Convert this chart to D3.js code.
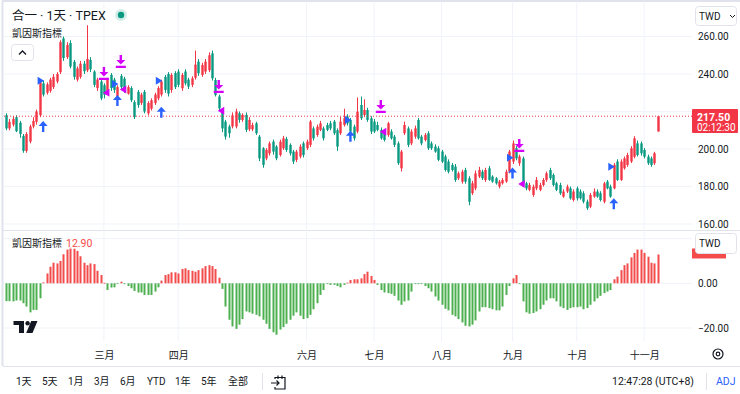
<!DOCTYPE html>
<html>
<head>
<meta charset="utf-8">
<script src="https://d3js.org/d3.v7.min.js"></script>
<style>
  html, body { margin: 0; padding: 0; background: #fff; }
  svg { display: block; font-family: Roboto, "Noto Sans CJK TC", sans-serif; }
</style>
</head>
<body>
<div id="chart"></div>
<script>
// daily candles, [open, high, low, close]
const ohlc = [
  [218,219,210,211],[211,216,210,214.5],[213,217.5,212,216],[217,218,209,209.5],[214,215,206,208],
  [207,208,198,199],[199,209,198,208],[204,213,203,212],[212,217,211,215],[214.5,221,213,220],
  [218,236.5,217,235.5],[235,236.5,228,229],[230,235.5,229,234.5],[231,238,230,237],[233,240,232,238.5],
  [236,241,235,240],[241,258,240,257],[259,260,247,248.5],[249,257,248,255.5],[256.5,258,243,244],
  [246.5,247.5,237,238.5],[237,244,236,243],[238.5,247,237.5,245.5],[245.5,247,240,241.5],[242,266,241,248],
  [247.5,249,241,242.5],[241.3,242,233,234.2],[232.5,238,231,237],[236,237,226,227],[234,235,227,229],
  [230.5,238,229,237],[239.5,240.5,231,232.5],[237,238,230,231.5],[228,234,227,233],[239,240,232,233],
  [237.5,238.5,230,231.5],[229.5,234,229,233],[232.5,233.5,225,226],[225,226,216,217],[230.5,231.5,222,223.5],
  [224.5,230,223.5,229],[230.5,231.5,219,220],[219,225.5,218,224.5],[221.5,227,220.5,226],[224.5,230,223.5,229],
  [227,233.5,226,232.5],[229,237,228,236],[238.5,239.5,230,231.5],
  [240,241,228,229.5],[231.5,240.5,230,239.5],[240.5,241.5,232,233],[241.3,242.5,233,234.2],[232.4,240.5,231,239.5],
  [241.3,242.5,234,235],[237,238,232,233.3],[234.2,238.8,233,237.7],[238,252.5,237,245],[246.6,248,239,240.4],
  [239.5,246,238.5,244.8],[241.3,248,240,246.6],[242,251.5,241,250],[251,252.5,236.5,237.7],[236.8,238,228,228.8],
  [228,229,220.5,221.7],[220,221,209,211],[214.6,215.5,205,206.6],[212,213,206,208.4],[212,219.5,211,218],
  [212,221.5,211,220],[219,220,214,215.5],[215.5,219,214.5,218.2],[218.2,219.5,209,210.2],[210.5,217,209.5,215.5],
  [210.5,214,209.5,212.8],[213.7,214.5,207.5,208.4],[206.6,207.5,193.5,195],[200.4,201,190,191.5],[195,200.5,194,199.5],
  [197.7,204,196.5,203],[203.9,205,197,198.6],[201.3,202,194,195],[196.8,205,196,203.9],[200.4,207,199.5,205.7],
  [205.4,206.5,198.5,199.5],[202.2,203,196.5,197.7],[198.6,199.5,192,193.3],[194.2,199.5,193,198.6],[196,202.5,195,201.3],
  [203,204,195.5,196.8],[200.4,205,199.5,203.9],[202.2,215.5,201,214.6],[211,212,204.5,205.7],[207.5,213,206.5,211.9],
  [210.2,215,209.5,213.7],[211,212,204.5,205.7],[212.8,214,209.5,210.2],[213.7,215,210,211],
  [214.6,215.5,207.5,208.4],[210,211,199,201.3],[208.4,217,207.5,214.6],[212.8,221.5,212,216.4],[217.3,218.5,212.5,213.7],
  [215.5,216.5,208,209.3],[211.9,213,204.5,205.7],[209.3,227.5,208.4,219.9],[223.5,228,215.5,216.4],[218.2,226.5,217,220.8],
  [220.8,222,214.5,215.5],[216.4,217.5,208,209.3],[214.6,216,208.5,209.3],[212.8,214.5,209.5,210.2],[210.2,211.5,205,205.7],
  [208.4,209.5,204,204.8],[207.5,214.5,206.5,213.7],[209.3,210.5,205,205.7],[206.6,207.5,201,202.2],[203,204,191.5,192.4],
  [189.7,199.5,188,198.6],[208.4,214.6,207.5,212.8],[211,212,201,202.2],[203,210.5,202,209.3],[206.6,212.5,205.5,211],
  [215.5,216.5,205,205.7],[206.6,207.5,202,203],[204.8,208.5,204,207.5],[208.4,209.5,199.5,200.4],[203,204,199.5,200.4],
  [201.3,202.5,198,198.6],[200.4,201.5,193.5,194.2],[198.6,199.5,192.5,193.3],[196,197,188,188.8],[193.3,194.5,187,187.9],
  [191.5,192.5,188,188.8],[190.6,192,182.5,183.5],[184.4,188,183.5,187],[182.6,189,181.5,187.9],[188.8,190,181.5,182.6],
  [184.4,185.5,170,171.9],[176.4,183,175.5,181.7],[179,188.5,178,187],[185.3,190.5,184.5,188.8],[187.9,189,183.5,184.4],
  [183.5,190,182.5,188.8],[189.7,191,183,183.5],[185.3,186,182,182.6],[184.4,185,181,181.7],[180,183.5,179,182.6],
  [181.7,184.5,181,183.5],[182.6,189,182,187.9],[187.9,199.5,187,198.6],[193.3,204.5,192,203],[200.4,201.5,194,195],
  [192.4,197,191,196],[195,196,180.5,181.7],[181.7,182.5,178,179],[178.2,182,177.5,180.8],[175.5,181,174.5,179.9],
  [179,185,178,183.5],[178.2,182,177.5,180.8],[180.8,184.5,180,183.5],[183.5,188,182.5,187],[188.8,190,183.5,184.4],
  [186.2,187,180,180.8],[181.7,182.5,177.5,178.2],[180.8,182,175.5,176.4],[174.6,178.5,174,177.3],[177.3,181,176.5,179.9],
  [179,180,173,173.7],[172.8,178.5,172,177.3],[179,180,172.5,173.7],[177.3,178.5,173,173.7],[176.4,177.5,171,171.9],
  [171.9,173,167.5,168.4],[169.3,176.5,168.5,175.5],[174.6,179,174,177.3],[177.3,178.5,174,174.6],[176.4,177.5,172,172.8],
  [171.9,182.5,171,181.7],[182.6,183.5,178.5,179],[180,181,174,174.6],[179,192.5,178.5,191.5],[193.3,194.5,183,183.5],
  [183.5,194.5,183,193.3],[189.7,196,189,195],[191.5,198,190.5,196.8],[193.3,201.5,192.5,200.4],[195.9,206.8,195,205.7],
  [203,204.5,196,196.8],[203,204,196.5,197.7],[199.5,200.5,195,195.9],[195.9,197,191.5,192.4],[195,196,190.5,191.5],
  [192.4,198.5,191.5,197.7],[209.3,217.5,209.3,217.5]
];

// 凱因斯指標 histogram, one value per candle
const keynes = [
  -8,-8,-8.1,-7.7,-7.7,-8.9,-10.4,-13,-11.9,-11.9,-6.7,
  0.4,4.4,7.4,9.2,8.9,10,13,15.1,16,15.6,14.5,12.1,9.2,8.1,8.9,8.6,5.6,3.7,0.2,
  -3,-1.9,-1.8,-0.3,0.7,-0.4,-1.2,-2.2,-3.4,-4.1,-4.1,-5.2,-5.2,-5.2,-3.7,-1.8,
  1.2,3.7,4.1,4.9,4.9,4.4,6.4,6.7,5.9,5.6,5.2,5.9,6.7,7.7,8.1,7.7,6.4,2.5,
  -2.5,-10.4,-16.3,-19.3,-20.4,-18.5,-16,-12.6,-13,-13.6,-14.1,-14.8,-16.3,-18.1,-20.4,-21.9,-23,-20.7,-19.6,-18.1,
  -16.3,-14.5,-13,-14.5,-16,-15.6,-14.1,-11.6,-8.9,-5.2,-3,-0.3,-0.7,-0.7,-1.2,-1.8,-0.7,0.3,1.5,1.8,1.8,2.2,4.1,5.2,
  3.3,1.5,-0.7,-3,-4.1,-4.4,-4.7,-5.6,-7.7,-9.6,-8.1,-7.7,-3.7,-0.3,-0.4,-0.3,-1.2,-2.2,-3.7,-5.9,
  -7.7,-9.6,-11.4,-12.1,-14.1,-14.8,-16,-17.5,-19,-19.3,-18.5,-16.6,-12.6,-10.7,-10.7,-11.1,-11.6,-12.1,-12.1,-10.4,
  -5.2,-1.2,2.2,3.7,-0.3,-8.1,-13,-13.6,-13.3,-12.6,-11.6,-9.6,-7.7,-6.7,-6.7,-8.1,-10.4,-11.1,-11.9,-11.1,
  -10.7,-10.7,-10.4,-11.6,-11.1,-9.6,-8.1,-6.7,-5.6,-4.4,-3.7,-3,1.8,3,5.9,8.1,8.9,11.6,13.6,15.1,
  15.1,13.6,11.9,9.2,8.9,12.9
];

const monthStarts = [29, 51, 89, 109, 129, 150, 169, 189];
const monthNames = ['三月', '四月', '六月', '七月', '八月', '九月', '十月', '十一月'];
const priceGrid = [160, 180, 200, 220, 240, 260];
const priceLabels = [160, 180, 200, 240, 260];   // 220.00 sits under the last-price tag
const keynesTicks = [-20, 0];
const keynesGrid = [-20, 0, 20];
const lastPrice = 217.5;
const lastKeynes = 12.9;

// signal markers: [candle index, price]
const buyTri = [[11, 236.4], [33, 234.7], [46, 236.4], [102, 215.5], [150, 195.4], [180, 190.6]];
const buyArrow = [[11, 214.9], [33, 228.8], [46, 222.6], [102, 209.8], [150, 190.2], [180, 173.7]];
const sellArrow = [[29, 236.8], [34, 243.2], [63, 229.9], [111, 219.2], [152, 198.4]];
const sellTri = [[29, 230], [34, 231.8], [63, 220.4], [111, 209.2], [152, 181.3]];

const rangeBtns = ['1天', '5天', '1月', '3月', '6月', 'YTD', '1年', '5年', '全部'];

(function () {
  'use strict';
  const W = 740, H = 394;
  const RED = '#f23645', GREEN = '#089981', HRED = '#f44b4b', HGREEN = '#4caf50';
  const BLUE = '#2962ff', MAG = '#d500f9', GRID = '#f0f3fa', LINE = '#e0e3eb', TEXT = '#131722';
  const PLOT_R = 692;

  const svg = d3.select('#chart').append('svg').attr('width', W).attr('height', H);
  svg.append('rect').attr('width', W).attr('height', H).attr('fill', '#fff');

  const x = d3.scaleLinear().domain([0, ohlc.length - 1]).range([6, 657.7]);
  const yP = d3.scaleLinear().domain([160, 260]).range([224, 36.5]);
  const yK = d3.scaleLinear().domain([-20, 0]).range([328, 283.3]);

  // frame + pane separators
  svg.append('line').attr('x1', 2.5).attr('x2', 2.5).attr('y1', 1).attr('y2', 366).attr('stroke', LINE).attr('stroke-width', 2);
  svg.append('line').attr('x1', 2).attr('x2', W).attr('y1', 1).attr('y2', 1).attr('stroke', LINE).attr('stroke-width', 2);
  svg.append('line').attr('x1', 3).attr('x2', W).attr('y1', 230.5).attr('y2', 230.5).attr('stroke', LINE);
  svg.append('line').attr('x1', 3).attr('x2', W).attr('y1', 366.5).attr('y2', 366.5).attr('stroke', LINE);

  // grid
  const grid = svg.append('g');
  grid.selectAll('line.vg').data(monthStarts).join('line').attr('class', 'vg')
    .attr('x1', d => x(d)).attr('x2', d => x(d)).attr('y1', 3).attr('y2', 341).attr('stroke', GRID);
  grid.selectAll('line.hp').data(priceGrid).join('line').attr('class', 'hp')
    .attr('x1', 4).attr('x2', PLOT_R).attr('y1', d => yP(d)).attr('y2', d => yP(d)).attr('stroke', GRID);
  grid.selectAll('line.hk').data(keynesGrid).join('line').attr('class', 'hk')
    .attr('x1', 4).attr('x2', PLOT_R).attr('y1', d => yK(d)).attr('y2', d => yK(d)).attr('stroke', GRID);

  // candles
  svg.append('clipPath').attr('id', 'pclip').append('rect').attr('x', 3).attr('y', 3).attr('width', PLOT_R - 3).attr('height', 226);
  const cg = svg.append('g').attr('clip-path', 'url(#pclip)');
  const bw = 2.4;
  const candle = cg.selectAll('g.c').data(ohlc).join('g').attr('class', 'c');
  candle.append('line')
    .attr('x1', (d, i) => Math.round(x(i)) + 0.5).attr('x2', (d, i) => Math.round(x(i)) + 0.5)
    .attr('y1', d => yP(d[1])).attr('y2', d => yP(d[2]))
    .attr('stroke', d => d[3] >= d[0] ? RED : GREEN).attr('stroke-width', 1);
  candle.append('rect')
    .attr('x', (d, i) => Math.round(x(i)) + 0.5 - bw / 2).attr('width', bw)
    .attr('y', d => yP(Math.max(d[0], d[3])))
    .attr('height', d => Math.max(1, Math.abs(yP(d[0]) - yP(d[3]))))
    .attr('fill', d => d[3] >= d[0] ? RED : GREEN);

  // last price line
  svg.append('line').attr('x1', 4).attr('x2', PLOT_R).attr('y1', yP(lastPrice)).attr('y2', yP(lastPrice))
    .attr('stroke', RED).attr('stroke-dasharray', '1 2').attr('stroke-width', 1);

  // markers
  const mk = svg.append('g');
  mk.selectAll('path.bt').data(buyTri).join('path').attr('class', 'bt')
    .attr('d', d => { const cx = x(d[0]) - 2.5, cy = yP(d[1]); return `M${cx - 3},${cy - 4}L${cx + 3.5},${cy}L${cx - 3},${cy + 4}Z`; })
    .attr('fill', BLUE);
  mk.selectAll('path.ba').data(buyArrow).join('path').attr('class', 'ba')
    .attr('d', d => { const cx = x(d[0]), ty = yP(d[1]);
      return `M${cx},${ty}L${cx + 4.5},${ty + 5}L${cx + 1.2},${ty + 5}L${cx + 1.2},${ty + 11}L${cx - 1.2},${ty + 11}L${cx - 1.2},${ty + 5}L${cx - 4.5},${ty + 5}Z`; })
    .attr('fill', BLUE);
  mk.selectAll('path.sa').data(sellArrow).join('path').attr('class', 'sa')
    .attr('d', d => { const cx = x(d[0]), by = yP(d[1]);
      return `M${cx - 1.2},${by - 13}L${cx + 1.2},${by - 13}L${cx + 1.2},${by - 8}L${cx + 4.5},${by - 8}L${cx},${by - 3.5}L${cx - 4.5},${by - 8}L${cx - 1.2},${by - 8}Z` +
        `M${cx - 5},${by - 2.2}L${cx + 5},${by - 2.2}L${cx + 5},${by}L${cx - 5},${by}Z`; })
    .attr('fill', MAG);
  mk.selectAll('path.st').data(sellTri).join('path').attr('class', 'st')
    .attr('d', d => { const cx = x(d[0]) + 2.5, cy = yP(d[1]); return `M${cx + 3},${cy - 4}L${cx - 3.5},${cy}L${cx + 3},${cy + 4}Z`; })
    .attr('fill', MAG);

  // keynes histogram
  svg.append('g').selectAll('rect').data(keynes).join('rect')
    .attr('x', (d, i) => Math.round(x(i)) - 0.5).attr('width', 2)
    .attr('y', d => d >= 0 ? yK(d) : yK(0)).attr('height', d => Math.max(0.8, Math.abs(yK(d) - yK(0))))
    .attr('fill', d => d >= 0 ? HRED : HGREEN);

  // axes
  const styleAxis = g => {
    g.select('.domain').remove();
    g.attr('font-family', 'Roboto, "Noto Sans CJK TC", sans-serif').attr('font-size', 10);
    g.selectAll('text').attr('fill', TEXT);
  };
  svg.append('g').attr('transform', `translate(${PLOT_R + 6},0)`)
    .call(d3.axisRight(yP).tickValues(priceLabels).tickFormat(d3.format('.2f')).tickSize(0).tickPadding(0))
    .call(styleAxis);
  svg.append('g').attr('transform', `translate(${PLOT_R + 6},0)`)
    .call(d3.axisRight(yK).tickValues(keynesTicks).tickFormat(d3.format('.2f')).tickSize(0).tickPadding(0))
    .call(styleAxis);
  svg.append('g').attr('transform', 'translate(0,352)')
    .call(d3.axisBottom(x).tickValues(monthStarts).tickFormat((d, i) => monthNames[i]).tickSize(0).tickPadding(0))
    .call(styleAxis);

  // last price label
  svg.append('rect').attr('x', 692).attr('y', 109).attr('width', 46).attr('height', 24).attr('rx', 1).attr('fill', RED);
  svg.append('text').attr('x', 697).attr('y', 120.5).attr('fill', '#fff').attr('font-size', 10.5).attr('font-weight', 'bold').text(d3.format('.2f')(lastPrice));
  svg.append('text').attr('x', 697).attr('y', 131).attr('fill', '#fff').attr('font-size', 10).text('02:12:30');

  // indicator last value tag (mostly behind the currency box)
  svg.append('rect').attr('x', 692).attr('y', yK(lastKeynes) - 6).attr('width', 34).attr('height', 10).attr('fill', HRED);

  // currency boxes
  const curBox = (y0, h, chev) => {
    svg.append('rect').attr('x', 695.5).attr('y', y0).attr('width', 41).attr('height', h).attr('rx', 3)
      .attr('fill', '#fff').attr('stroke', LINE);
    svg.append('text').attr('x', 699).attr('y', y0 + h / 2 + 3.5).attr('font-size', 10).attr('fill', TEXT).text('TWD');
    if (chev) svg.append('path').attr('d', `M730,${y0 + h / 2 - 1}l2.5,2.5l2.5,-2.5`).attr('fill', 'none').attr('stroke', TEXT).attr('stroke-width', 1);
  };
  curBox(6.5, 19, true);
  curBox(233.5, 20, false);

  // header legend
  svg.append('text').attr('x', 12).attr('y', 19.5).attr('font-size', 12.5).attr('fill', TEXT).text('合一 · 1天 · TPEX');
  svg.append('circle').attr('cx', 121).attr('cy', 15).attr('r', 6).attr('fill', GREEN).attr('opacity', 0.18);
  svg.append('circle').attr('cx', 121).attr('cy', 15).attr('r', 3.2).attr('fill', GREEN);
  svg.append('text').attr('x', 12).attr('y', 36.5).attr('font-size', 10).attr('fill', TEXT).text('凱因斯指標');
  svg.append('rect').attr('x', 11.5).attr('y', 44.5).attr('width', 22).attr('height', 16).attr('rx', 3).attr('fill', '#fff').attr('stroke', LINE);
  svg.append('path').attr('d', 'M19,54.5L22.5,51L26,54.5').attr('fill', 'none').attr('stroke', TEXT).attr('stroke-width', 1.3);

  // indicator legend
  svg.append('rect').attr('x', 64).attr('y', 236).attr('width', 30).attr('height', 13).attr('fill', '#fff').attr('opacity', 0.55);
  svg.append('text').attr('x', 12).attr('y', 246.5).attr('font-size', 10).attr('fill', TEXT).text('凱因斯指標');
  svg.append('text').attr('x', 66).attr('y', 246.5).attr('font-size', 10.5).attr('fill', HRED).text(d3.format('.2f')(lastKeynes));

  // TradingView logo
  const logo = svg.append('g').attr('fill', TEXT);
  logo.append('rect').attr('x', 13.5).attr('y', 321).attr('width', 10.5).attr('height', 4);
  logo.append('rect').attr('x', 19).attr('y', 321).attr('width', 5).attr('height', 12);
  logo.append('circle').attr('cx', 27.6).attr('cy', 323.2).attr('r', 2.2);
  logo.append('path').attr('d', 'M31.2,321L37.5,321L32.5,333L26.2,333Z');

  // settings gear
  svg.append('circle').attr('cx', 718).attr('cy', 354).attr('r', 5).attr('fill', 'none').attr('stroke', TEXT).attr('stroke-width', 1.2);
  svg.append('circle').attr('cx', 718).attr('cy', 354).attr('r', 1.8).attr('fill', 'none').attr('stroke', TEXT).attr('stroke-width', 1.2);

  // bottom toolbar
  const btnX = [16, 42, 68, 94, 120, 147, 175, 201, 228];
  svg.append('g').selectAll('text').data(rangeBtns).join('text')
    .attr('x', (d, i) => btnX[i]).attr('y', 384.5).attr('font-size', 10).attr('fill', TEXT).text(d => d);
  svg.append('line').attr('x1', 262.5).attr('x2', 262.5).attr('y1', 373).attr('y2', 390).attr('stroke', LINE);
  svg.append('path').attr('d', 'M275,379V377.5H285V389H275V387M278,375.5V379M282,375.5V379M271,383H279M276.5,380.5L279,383L276.5,385.5')
    .attr('fill', 'none').attr('stroke', TEXT).attr('stroke-width', 1.2);
  svg.append('text').attr('x', 612).attr('y', 384.5).attr('font-size', 10.5).attr('fill', TEXT).text('12:47:28 (UTC+8)');
  svg.append('line').attr('x1', 706.5).attr('x2', 706.5).attr('y1', 373).attr('y2', 390).attr('stroke', LINE);
  svg.append('text').attr('x', 716).attr('y', 384.5).attr('font-size', 10.5).attr('fill', BLUE).text('ADJ');
})();
</script>
</body>
</html>
